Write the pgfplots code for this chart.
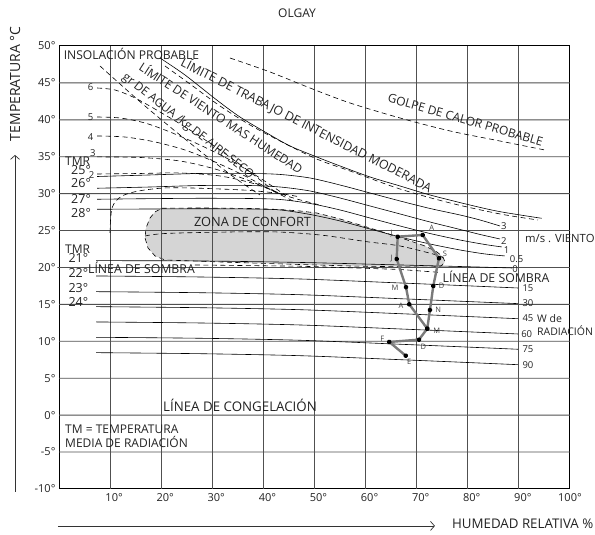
\documentclass[border=0pt]{standalone}
\usepackage{pgfplots}
\pgfplotsset{compat=1.18}
\usepackage{fontspec}
\setmainfont{Open Sans}
\usetikzlibrary{arrows.meta}
\definecolor{zone}{HTML}{D5D5D5}
\definecolor{pathc}{HTML}{7A7A7A}
\definecolor{gridgray}{HTML}{505050}
\definecolor{txt}{HTML}{222222}
\newcommand{\fs}[1]{\fontsize{#1}{#1}\selectfont}
\begin{document}
\begin{tikzpicture}[font=\fs{12}]
\begin{axis}[
  scale only axis, width=511pt, height=443pt,
  xmin=0, xmax=100, ymin=-10, ymax=50,
  clip=false,
  xtick={10,20,...,100}, ytick={-10,-5,...,50},
  xticklabels={10°,20°,30°,40°,50°,60°,70°,80°,90°,\hspace*{-8pt}100°},
  yticklabels={-10°,-5°,0°,5°,10°,15°,20°,25°,30°,35°,40°,45°,50°},
  major tick length=0pt,
  axis line style={black, line width=1pt},
  tick label style={font=\fs{11}, text=txt},
  xticklabel style={xshift=4pt, yshift=-1pt},
  every axis plot/.append style={line width=0.6pt, black},
  dsh/.style={dash pattern=on 5pt off 3.5pt},
  gv/.style={fill=gridgray, draw=none, forget plot},
  gh/.style={gridgray, line width=0.9pt, forget plot},
]
% comfort zone
\addplot[fill=zone, draw=black, dsh, line width=0.6pt] coordinates {
(20.1,28.02)(27.59,28.06)(37.38,27.99)(43.25,27.85)(47.16,27.65)(50.43,27.38)(54.99,26.57)(60.22,25.48)(66.73,24.06)(71.62,22.91)(73.97,22.10)(75.15,21.42)(75.54,20.74)(74.76,20.20)(72.60,20.03)(66.73,20.09)(56.95,20.20)(47.16,20.40)(37.38,20.61)(27.59,20.84)(20.74,21.01)(18.79,21.56)(17.42,22.64)(16.83,23.99)(17.03,25.35)(17.81,26.70)(18.79,27.52)(20.1,28.02)};
% vertical grid lines as thin filled strips
\addplot[gv] coordinates {(9.91,-10)(10.09,-10)(10.09,50)(9.91,50)} -- cycle;
\addplot[gv] coordinates {(19.91,-10)(20.09,-10)(20.09,50)(19.91,50)} -- cycle;
\addplot[gv] coordinates {(29.91,-10)(30.09,-10)(30.09,50)(29.91,50)} -- cycle;
\addplot[gv] coordinates {(39.91,-10)(40.09,-10)(40.09,50)(39.91,50)} -- cycle;
\addplot[gv] coordinates {(49.91,-10)(50.09,-10)(50.09,50)(49.91,50)} -- cycle;
\addplot[gv] coordinates {(59.91,-10)(60.09,-10)(60.09,50)(59.91,50)} -- cycle;
\addplot[gv] coordinates {(69.91,-10)(70.09,-10)(70.09,50)(69.91,50)} -- cycle;
\addplot[gv] coordinates {(79.91,-10)(80.09,-10)(80.09,50)(79.91,50)} -- cycle;
\addplot[gv] coordinates {(89.91,-10)(90.09,-10)(90.09,50)(89.91,50)} -- cycle;
% horizontal grid lines as strokes (three points each)
\addplot[gh] coordinates {(0,-5)(50,-5.0001)(100,-5)};
\addplot[gh] coordinates {(0,0)(50,0.0001)(100,0)};
\addplot[gh] coordinates {(0,5)(50,5.0001)(100,5)};
\addplot[gh] coordinates {(0,10)(50,10.0001)(100,10)};
\addplot[gh] coordinates {(0,15)(50,15.0001)(100,15)};
\addplot[gh] coordinates {(-0.3,20)(50,20.0001)(100,20)};
\addplot[gh] coordinates {(0,25)(50,25.0001)(100,25)};
\addplot[gh] coordinates {(0,30)(50,30.0001)(100,30)};
\addplot[gh] coordinates {(0,35)(50,35.0001)(100,35)};
\addplot[gh] coordinates {(0,40)(50,40.0001)(100,40)};
\addplot[gh] coordinates {(0,45)(50,45.0001)(100,45)};
% inner dashed line of comfort zone
\addplot[dsh, smooth] coordinates {(16.83,24.26)(21.72,24.63)(40.65,24.84)(51.08,24.40)(60.22,23.49)(66.73,22.91)(73.91,21.69)(75.15,21.28)};
% shade line (dashed)
\addplot[dsh] coordinates {(26.61,20.34)(47.16,20.17)(66.73,19.73)(74.56,19.33)};
% big left dashed arc
\addplot[dsh, smooth] coordinates {(9.98,24.67)(10.08,26.43)(10.37,28.06)(11.15,29.01)(12.33,29.68)(14.29,30.16)(16.83,30.50)(20.74,30.77)(25.64,30.77)(31.51,30.63)(37.38,30.43)(43.25,30.02)(47.16,29.55)};
% gr de agua lines
\addplot[dsh, smooth] coordinates {(7.44,44.31)(10.96,44.04)(14.87,42.96)(19.77,41.06)(25.64,38.62)(31.51,35.91)(37.38,32.93)(42.27,30.23)};
\addplot[dsh, smooth] coordinates {(7.44,40.38)(11.94,40.25)(16.83,39.57)(21.72,38.35)(27.59,36.59)(33.46,34.56)(39.33,32.12)(44.23,29.82)};
\addplot[dsh, smooth] coordinates {(7.44,37.81)(12.92,37.67)(18.79,37.0)(24.66,35.91)(30.53,34.29)(36.4,32.39)(42.27,30.23)(46.18,28.87)};
\addplot[dsh, smooth] coordinates {(7.44,34.97)(15.85,34.90)(23.68,34.42)(30.53,33.34)(37.38,31.71)(44.23,29.68)};
\addplot[dsh, smooth] coordinates {(7.44,32.66)(15.85,32.73)(23.68,32.80)(31.51,32.39)(38.36,31.31)(45.2,29.55)(51.08,28.46)};
\addplot[dsh, smooth] coordinates {(8.02,47.29)(11.94,44.85)(16.83,41.87)(22.70,38.49)(28.57,35.24)(34.44,32.12)(39.33,29.82)};
% limite de trabajo (solid)
\addplot[smooth] coordinates {(19.77,48.37)(24.66,46.07)(30.86,42.69)(35.42,40.38)(40.65,38.22)(45.2,36.46)(50.43,34.97)(54.99,33.75)(60.86,32.26)(66.73,31.04)(72.6,29.82)(80.43,28.46)(86.30,27.56)(94.46,26.66)};
% limite de viento mas humedad (dashed)
\addplot[dsh, smooth] coordinates {(20.74,47.29)(25.64,44.85)(31.51,41.87)(37.38,39.30)(43.25,37.13)(50.43,34.69)(56.95,33.07)(66.73,30.63)(76.52,28.74)(86.30,27.25)(93.74,26.43)};
% golpe de calor (dashed)
\addplot[dsh, smooth] coordinates {(33.46,48.37)(41.29,46.48)(49.12,44.31)(56.95,42.28)(66.73,40.25)(76.52,38.49)(86.30,37.13)(95.11,35.91)};
% wind lines
\addplot[smooth] coordinates {(7.44,32.32)(17.81,32.53)(27.59,32.73)(37.38,32.73)(43.25,32.6)(49.12,32.12)(54.99,31.17)(60.86,30.09)(66.73,29.01)(72.6,27.99)(78.47,27.11)(82.39,26.43)(86.30,25.62)};
\addplot[smooth] coordinates {(7.44,30.73)(17.81,30.90)(27.59,31.10)(37.38,31.10)(43.25,30.90)(49.12,30.36)(54.99,29.41)(60.86,28.33)(66.73,27.25)(72.6,26.16)(78.47,25.15)(82.39,24.47)(86.30,23.86)};
\addplot[smooth] coordinates {(7.44,29.24)(17.81,29.32)(27.59,29.37)(37.38,29.34)(43.25,29.21)(49.12,28.67)(54.99,27.79)(60.86,26.70)(66.73,25.62)(72.6,24.60)(78.47,23.72)(83.36,23.11)(86.69,22.78)};
\addplot[smooth] coordinates {(7.44,27.88)(17.81,27.92)(27.59,27.95)(37.38,27.92)(43.25,27.79)(49.12,27.18)(54.99,26.30)(60.86,25.21)(66.73,24.13)(72.6,23.18)(78.47,22.37)(83.36,21.83)(87.28,21.56)};
% TMR 21 / 0 line
\addplot[smooth] coordinates {(7.24,20.92)(27.59,20.88)(47.16,20.68)(66.73,20.34)(78.47,20.13)(88.65,19.93)};
% radiation lines
\addplot[smooth] coordinates {(7.24,18.85)(27.59,18.71)(47.16,18.44)(66.73,17.90)(78.47,17.56)(89.83,17.22)};
\addplot[smooth] coordinates {(7.24,16.72)(27.59,16.58)(47.16,16.31)(66.73,15.77)(78.47,15.43)(89.83,15.10)};
\addplot[smooth] coordinates {(7.24,14.69)(27.59,14.55)(47.16,14.28)(66.73,13.74)(78.47,13.40)(89.83,13.06)};
\addplot[smooth] coordinates {(7.24,12.62)(27.59,12.48)(47.16,12.21)(66.73,11.67)(78.47,11.33)(89.83,10.99)};
\addplot[smooth] coordinates {(7.24,10.54)(27.59,10.41)(47.16,10.14)(66.73,9.60)(78.47,9.26)(89.83,8.92)};
\addplot[smooth] coordinates {(7.24,8.46)(27.59,8.32)(47.16,8.05)(66.73,7.51)(78.47,7.17)(89.83,6.83)};
% monthly climate path
\addplot[pathc, line width=2.4pt, line join=round, mark=*, mark size=1.3pt, mark options={black, fill=black}] coordinates {
(67.85,8.05)(64.64,9.91)(70.45,10.22)(72.07,11.71)(68.55,15.01)(67.91,17.32)(66.09,21.15)(66.28,24.17)(71.17,24.40)(74.36,21.24)(73.25,17.49)(72.6,14.24)(72.07,11.71)};

% ---- texts ----
\begin{scope}[every node/.style={text=txt, inner sep=0pt}]
\node[font=\fs{12}] at (axis cs:46.58,54.47) {OLGAY};
\node[rotate=90, font=\fs{14}] at (axis cs:-8.61,44.9) {TEMPERATURA °C};
\node[anchor=west, font=\fs{13.3}] at (axis cs:76.9,-14.74) {HUMEDAD RELATIVA \%};
\node[anchor=west, font=\fs{12.1}] at (axis cs:0.9,48.92) {INSOLACIÓN PROBABLE};
\node[rotate=-27, font=\fs{12.4}] at (axis cs:48.43,39.3) {LÍMITE DE TRABAJO DE INTENSIDAD MODERADA};
\node[rotate=-33, font=\fs{12}] at (axis cs:31.8,40.32) {LÍMITE DE VIENTO MAS HUMEDAD};
\node[rotate=-38, font=\fs{11.8}] at (axis cs:25.24,39.1) {gr DE AGUA /kg DE AIRE SECO};
\node[rotate=-16, font=\fs{12}] at (axis cs:79.55,39.98) {GOLPE DE CALOR PROBABLE};
\node[font=\fs{12.8}] at (axis cs:37.87,26.16) {ZONA DE CONFORT};
\node[font=\fs{13.3}] at (axis cs:35.42,1.37) {LÍNEA DE CONGELACIÓN};
\node[anchor=west, font=\fs{12}] at (axis cs:1.17,-1.92) {TM = TEMPERATURA};
\node[anchor=west, font=\fs{12}] at (axis cs:1.17,-3.68) {MEDIA DE RADIACIÓN};
\node[font=\fs{12.3}] at (axis cs:16.14,19.89) {LÍNEA DE SOMBRA};
\node[font=\fs{12.3}] at (axis cs:85.52,18.67) {LÍNEA DE SOMBRA};
\node[anchor=west, font=\fs{11.3}] at (axis cs:91.19,23.86) {m/s . VIENTO};
\node[anchor=west] at (axis cs:1.17,34.42) {TMR};
\node[anchor=west] at (axis cs:1.17,22.46) {TMR};
\begin{scope}[every node/.append style={font=\fs{12.5}}]
\node at (axis cs:4.31,33.2) {25°};
\node at (axis cs:4.31,31.4) {26°};
\node at (axis cs:4.31,29.28) {27°};
\node at (axis cs:4.31,27.38) {28°};
\node at (axis cs:3.78,21.24) {21°};
\node at (axis cs:3.78,19.21) {22°};
\node at (axis cs:3.78,17.18) {23°};
\node at (axis cs:3.78,15.37) {24°};
\end{scope}
\begin{scope}[every node/.append style={font=\fs{9.5}}]
\node at (axis cs:6.2,44.41) {6};
\node at (axis cs:6.2,40.34) {5};
\node at (axis cs:6.2,37.71) {4};
\node at (axis cs:6.6,35.55) {3};
\node at (axis cs:6.4,32.53) {2};
\node at (axis cs:87.08,25.62) {3};
\node at (axis cs:87.08,23.55) {2};
\node at (axis cs:87.61,22.37) {1};
\node at (axis cs:89.57,21.15) {0.5};
\node at (axis cs:89.24,19.8) {0};
\node at (axis cs:91.78,17.26) {15};
\node at (axis cs:91.78,15.23) {30};
\node at (axis cs:91.78,13.12) {45};
\node at (axis cs:91.53,10.95) {60};
\node at (axis cs:91.78,8.92) {75};
\node at (axis cs:91.78,6.79) {90};
\end{scope}
\node[anchor=west, font=\fs{10.5}] at (axis cs:93.54,13.12) {W de};
\node[anchor=west, font=\fs{10.5}] at (axis cs:93.54,11.44) {RADIACIÓN};
\begin{scope}[every node/.append style={font=\fs{7.5}, text=black!75}]
\node at (axis cs:68.55,7.24) {E};
\node at (axis cs:63.27,10.31) {F};
\node at (axis cs:71.29,9.19) {D};
\node at (axis cs:73.91,11.44) {M};
\node at (axis cs:66.93,14.82) {A};
\node at (axis cs:65.75,17.18) {M};
\node at (axis cs:65.11,21.15) {J};
\node at (axis cs:65.1,24.6) {J};
\node at (axis cs:72.94,25.31) {A};
\node at (axis cs:75.54,21.83) {S};
\node at (axis cs:74.89,17.53) {D};
\node at (axis cs:74.23,14.24) {N};
\end{scope}
\end{scope}
% arrows
\draw[black!80, line width=0.7pt, -{Straight Barb[length=4pt,width=9pt]}] (axis cs:-8.61,-10.41) -- (axis cs:-8.61,35.24);
\draw[black!80, line width=0.7pt, -{Straight Barb[length=4pt,width=9pt]}] (axis cs:-0.2,-15.01) -- (axis cs:73.58,-15.01);
% bounding box
\path (axis cs:-11.55,-16.23) rectangle (axis cs:104.9,56.23);
\end{axis}
\end{tikzpicture}
\end{document}
